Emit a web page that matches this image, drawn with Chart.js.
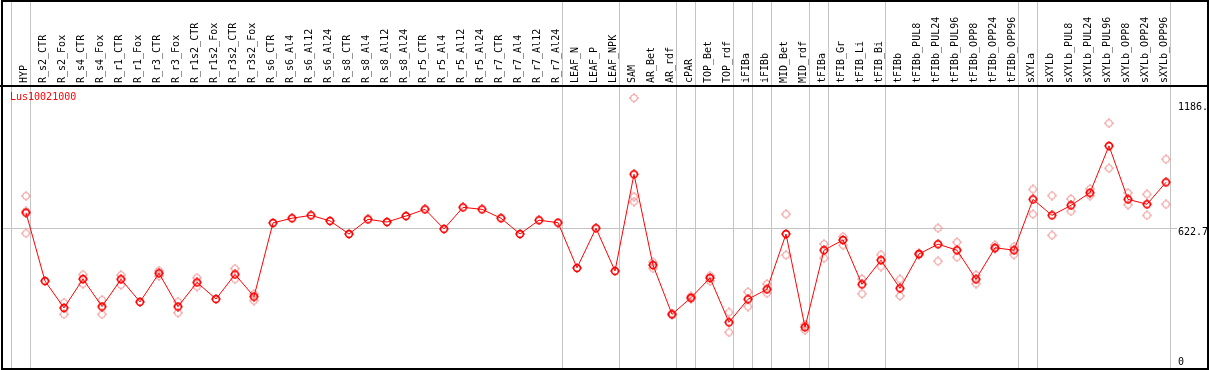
<!DOCTYPE html>
<html>
<head>
<meta charset="utf-8">
<script src="https://cdn.jsdelivr.net/npm/chart.js@4.4.0/dist/chart.umd.min.js"></script>
<style>
  html, body { margin: 0; padding: 0; background: #fff; }
  #wrap { width: 1209px; height: 370px; }
</style>
</head>
<body>
<div id="wrap"><canvas id="chart" width="1209" height="370"></canvas></div>
<script>
// ---- data ----
const geneName = 'Lus10021000';

const sampleLabels = [
  'HYP', 'R_s2_CTR', 'R_s2_Fox', 'R_s4_CTR', 'R_s4_Fox', 'R_r1_CTR', 'R_r1_Fox', 'R_r3_CTR', 'R_r3_Fox',
  'R_r1s2_CTR', 'R_r1s2_Fox', 'R_r3s2_CTR', 'R_r3s2_Fox', 'R_s6_CTR', 'R_s6_Al4', 'R_s6_Al12', 'R_s6_Al24',
  'R_s8_CTR', 'R_s8_Al4', 'R_s8_Al12', 'R_s8_Al24', 'R_r5_CTR', 'R_r5_Al4', 'R_r5_Al12', 'R_r5_Al24',
  'R_r7_CTR', 'R_r7_Al4', 'R_r7_Al12', 'R_r7_Al24', 'LEAF_N', 'LEAF_P', 'LEAF_NPK', 'SAM', 'AR_Bet', 'AR_rdf',
  'cPAR', 'TOP_Bet', 'TOP_rdf', 'iFIBa', 'iFIBb', 'MID_Bet', 'MID_rdf', 'tFIBa', 'tFIB_Gr', 'tFIB_Li', 'tFIB_Bi',
  'tFIBb', 'tFIBb_PUL8', 'tFIBb_PUL24', 'tFIBb_PUL96', 'tFIBb_OPP8', 'tFIBb_OPP24', 'tFIBb_OPP96',
  'sXYLa', 'sXYLb', 'sXYLb_PUL8', 'sXYLb_PUL24', 'sXYLb_PUL96', 'sXYLb_OPP8', 'sXYLb_OPP24', 'sXYLb_OPP96'
];

// mean expression per sample
const meanValues = [
  693, 385, 264, 394, 270, 393, 291, 420, 270, 379, 304, 415, 315, 647, 668, 681, 656,
  597, 663, 651, 678, 708, 620, 717, 708, 668, 597, 659, 648, 444, 623, 430, 866, 457, 235,
  310, 399, 199, 303, 348, 597, 177, 524, 570, 370, 479,
  352, 507, 551, 524, 393, 535, 524,
  753, 681, 726, 783, 994, 753, 731, 830
];

// individual replicates (null = none shown)
const repHigh = [
  768, null, 288, 414, 300, 412, null, 432, 292, 400, null, 441, 327, null, null, null, null,
  null, null, null, null, null, null, null, null, null, null, null, null, null, null, null, 1210, 470, 238,
  316, 409, 244, 336, 372, 686, 188, 552, 585, 394, 504,
  393, 512, 623, 560, 412, 547, 540,
  798, 770, 755, 800, 1096, 782, 776, 934
];
const repLow = [
  600, null, 235, 372, 235, 367, null, 408, 242, 360, null, 393, 297, null, null, null, null,
  null, null, null, null, null, null, null, null, null, null, null, null, null, null, null, 743, 442, 232,
  304, 385, 154, 270, 330, 502, 164, 488, 546, 328, 450,
  318, 502, 474, 492, 373, 530, 504,
  686, 591, 699, 770, 893, 729, 681, 731
];
const repMid = [
  700, null, null, null, null, null, null, null, null, null, null, null, null, null, null, null, null,
  null, null, null, null, null, null, null, null, null, null, null, null, null, null, null, 765, null, null,
  null, null, null, null, null, null, null, null, null, null, null,
  null, null, null, null, null, null, null,
  null, null, null, null, null, null, null, null
];

// sample index after which a grey separator is drawn (-1 = before the first)
const separatorsAfter = [-1, 0, 28, 31, 34, 35, 37, 38, 39, 41, 42, 45, 52, 53, 60];

// y axis tick values and their printed text
const yTickValues = [0, 622.7, 1186];
const yTickText = ['0', '622.7', '1186.'];

// ---- marker images ----
function makeMarker(color, lw) {
  const c = document.createElement('canvas');
  c.width = 10; c.height = 10;
  const g = c.getContext('2d');
  g.strokeStyle = color;
  g.fillStyle = color;
  g.lineWidth = lw;
  g.beginPath();
  g.arc(5, 5, 3.4, 0, Math.PI * 2);
  g.stroke();
  g.fillRect(4.5, 0, 1, 1);
  g.fillRect(4.5, 9, 1, 1);
  g.fillRect(0, 4.5, 1, 1);
  g.fillRect(9, 4.5, 1, 1);
  return c;
}
const mainMarker = makeMarker('#ff0000', 1.6);
const repMarker = makeMarker('#f08c8c', 1);

const FONT = 'DejaVu Sans Mono';

const meanPoints = meanValues.map((v, i) => ({ x: i, y: v }));
const repPoints = [];
[repHigh, repMid, repLow].forEach(arr => {
  arr.forEach((v, i) => { if (v !== null) repPoints.push({ x: i, y: v }); });
});

// frame, separators, y labels, gene name
const decorPlugin = {
  id: 'decor',
  beforeDatasetsDraw(chart) {
    const ctx = chart.ctx;
    const xs = chart.scales.x;
    ctx.save();
    ctx.strokeStyle = '#c4c4c4';
    ctx.lineWidth = 1;
    separatorsAfter.forEach(i => {
      const px = Math.round(xs.getPixelForValue(i)) + 4.5;
      ctx.beginPath();
      ctx.moveTo(px, 0);
      ctx.lineTo(px, 369);
      ctx.stroke();
    });
    ctx.restore();
  },
  afterDraw(chart) {
    const ctx = chart.ctx;
    const ys = chart.scales.y;
    const area = chart.chartArea;
    ctx.save();
    ctx.strokeStyle = '#000';
    ctx.lineWidth = 2;
    ctx.strokeRect(2, 1, 1206, 368);
    ctx.beginPath();
    ctx.moveTo(0, area.top);
    ctx.lineTo(1209, area.top);
    ctx.stroke();

    ctx.font = '10px ' + FONT;
    ctx.textBaseline = 'middle';
    ctx.textAlign = 'left';
    ctx.fillStyle = '#000';
    yTickValues.forEach((v, i) => {
      const py = Math.min(ys.getPixelForValue(v) + 4, 362);
      ctx.fillText(yTickText[i], area.right + 1, py);
    });

    ctx.fillStyle = '#ff0000';
    ctx.fillText(chart.data.datasets[0].label, 10, area.top + 11);
    ctx.restore();
  }
};

new Chart(document.getElementById('chart'), {
  type: 'line',
  data: {
    datasets: [
      {
        label: geneName,
        data: meanPoints,
        borderColor: '#ff0000',
        borderWidth: 1,
        pointStyle: mainMarker,
        pointRadius: 4,
        tension: 0
      },
      {
        label: 'replicates',
        data: repPoints,
        showLine: false,
        pointStyle: repMarker,
        pointRadius: 4
      }
    ]
  },
  options: {
    responsive: false,
    animation: false,
    devicePixelRatio: 1,
    layout: { autoPadding: false, padding: { left: 1, right: 0, top: 0, bottom: 1 } },
    plugins: { legend: { display: false }, tooltip: { enabled: false } },
    scales: {
      x: {
        type: 'linear',
        position: 'top',
        min: -25 / 19,
        max: -25 / 19 + 1176 / 19,
        afterBuildTicks: s => { s.ticks = sampleLabels.map((_, i) => ({ value: i })); },
        afterFit: s => { s.height = 86; s.paddingLeft = 0; s.paddingRight = 0; },
        grid: { display: false, drawTicks: false },
        border: { display: false },
        ticks: {
          autoSkip: false,
          minRotation: 90,
          maxRotation: 90,
          padding: 3,
          labelOffset: 10,
          color: '#000',
          font: { family: FONT, size: 10 },
          callback: v => sampleLabels[v] ?? ''
        }
      },
      y: {
        type: 'linear',
        position: 'right',
        min: -11.3,
        max: 1263.8,
        afterBuildTicks: s => { s.ticks = yTickValues.map(v => ({ value: v })); },
        afterFit: s => { s.width = 32; s.paddingTop = 0; s.paddingBottom = 0; },
        border: { display: false },
        grid: {
          drawTicks: false,
          color: c => (c.tick && c.tick.value === 622.7) ? '#c4c4c4' : 'rgba(0,0,0,0)'
        },
        ticks: { display: false }
      }
    }
  },
  plugins: [decorPlugin]
});
</script>
</body>
</html>
